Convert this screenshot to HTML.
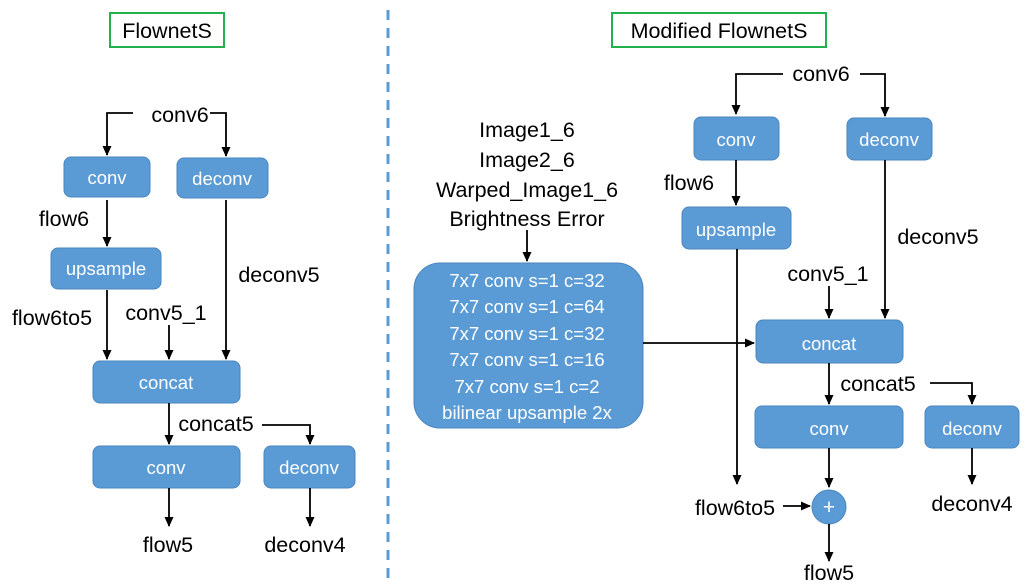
<!DOCTYPE html>
<html><head><meta charset="utf-8"><style>
html,body{margin:0;padding:0;background:#fff;}
svg{display:block;}
text{font-family:"Liberation Sans",sans-serif;}
.l{font-size:21.5px;fill:#000;text-anchor:middle;}
.b{font-size:18.5px;fill:#fff;text-anchor:middle;}
.box{fill:#5b9bd5;stroke:#4a86be;stroke-width:1;}
.ln{stroke:#000;stroke-width:1.8;fill:none;}
</style></head><body>
<svg width="1025" height="585" viewBox="0 0 1025 585" xmlns="http://www.w3.org/2000/svg">
<defs><marker id="a" markerWidth="10" markerHeight="10" refX="9" refY="5" orient="auto" markerUnits="userSpaceOnUse"><path d="M0,0.5 L10,5 L0,9.5 z" fill="#000"/></marker></defs>

<line x1="388" y1="10" x2="388" y2="582" stroke="#5b9bd5" stroke-width="3" stroke-dasharray="10,8"/>

<!-- LEFT -->
<rect x="110" y="13" width="114" height="34" fill="#fff" stroke="#22b14c" stroke-width="2"/>
<text class="l" x="167" y="38">FlownetS</text>

<text class="l" x="180" y="122">conv6</text>
<path class="ln" d="M133,113 H107 V155" marker-end="url(#a)"/>
<path class="ln" d="M210,113 H226 V156" marker-end="url(#a)"/>
<rect class="box" x="64" y="157" width="86" height="40" rx="7"/>
<text class="b" x="107" y="184">conv</text>
<rect class="box" x="177" y="158" width="91" height="40" rx="7"/>
<text class="b" x="222" y="185">deconv</text>

<text class="l" x="64" y="226">flow6</text>
<path class="ln" d="M107,200 V246" marker-end="url(#a)"/>
<rect class="box" x="51" y="248" width="110" height="41" rx="7"/>
<text class="b" x="106" y="275">upsample</text>

<text class="l" x="279" y="282">deconv5</text>
<path class="ln" d="M226,200 V359" marker-end="url(#a)"/>
<text class="l" x="52" y="325">flow6to5</text>
<path class="ln" d="M107,290 V359" marker-end="url(#a)"/>
<text class="l" x="166" y="320">conv5_1</text>
<path class="ln" d="M169,325 V359" marker-end="url(#a)"/>
<rect class="box" x="93" y="361" width="147" height="42" rx="7"/>
<text class="b" x="166" y="389">concat</text>

<path class="ln" d="M169,403 V444" marker-end="url(#a)"/>
<text class="l" x="216" y="431">concat5</text>
<path class="ln" d="M262,425 H310 V444" marker-end="url(#a)"/>
<rect class="box" x="93" y="446" width="147" height="42" rx="7"/>
<text class="b" x="166" y="474">conv</text>
<rect class="box" x="264" y="446" width="91" height="42" rx="7"/>
<text class="b" x="309" y="474">deconv</text>
<path class="ln" d="M169,488 V526" marker-end="url(#a)"/>
<path class="ln" d="M310,488 V526" marker-end="url(#a)"/>
<text class="l" x="168" y="552">flow5</text>
<text class="l" x="305" y="552">deconv4</text>

<!-- RIGHT -->
<rect x="612" y="13" width="214" height="34" fill="#fff" stroke="#22b14c" stroke-width="2"/>
<text class="l" x="719" y="38">Modified FlownetS</text>

<text class="l" x="821" y="81">conv6</text>
<path class="ln" d="M783,74 H736 V114" marker-end="url(#a)"/>
<path class="ln" d="M860,74 H885 V116" marker-end="url(#a)"/>
<rect class="box" x="694" y="117" width="85" height="43" rx="7"/>
<text class="b" x="736" y="146">conv</text>
<rect class="box" x="847" y="118" width="85" height="42" rx="7"/>
<text class="b" x="889" y="146">deconv</text>

<text class="l" x="689" y="190">flow6</text>
<path class="ln" d="M736,160 V205" marker-end="url(#a)"/>
<rect class="box" x="682" y="207" width="109" height="42" rx="7"/>
<text class="b" x="736" y="236">upsample</text>
<path class="ln" d="M737,249 V484" marker-end="url(#a)"/>

<text class="l" x="938" y="244">deconv5</text>
<path class="ln" d="M885,160 V318" marker-end="url(#a)"/>
<text class="l" x="828" y="281">conv5_1</text>
<path class="ln" d="M829,286 V318" marker-end="url(#a)"/>

<text class="l" x="527" y="137">Image1_6</text>
<text class="l" x="527" y="167">Image2_6</text>
<text class="l" x="527" y="197">Warped_Image1_6</text>
<text class="l" x="527" y="226">Brightness Error</text>
<path class="ln" d="M527,230 V261" marker-end="url(#a)"/>
<rect class="box" x="414" y="263" width="229" height="165" rx="26"/>
<text class="b" x="527" y="287">7x7 conv s=1 c=32</text>
<text class="b" x="527" y="313">7x7 conv s=1 c=64</text>
<text class="b" x="527" y="340">7x7 conv s=1 c=32</text>
<text class="b" x="527" y="366">7x7 conv s=1 c=16</text>
<text class="b" x="527" y="393">7x7 conv s=1 c=2</text>
<text class="b" x="527" y="419">bilinear upsample 2x</text>
<path class="ln" d="M643,343 H754" marker-end="url(#a)"/>

<rect class="box" x="756" y="320" width="147" height="43" rx="7"/>
<text class="b" x="829" y="350">concat</text>
<path class="ln" d="M829,363 V404" marker-end="url(#a)"/>
<text class="l" x="878" y="391">concat5</text>
<path class="ln" d="M930,383 H972 V404" marker-end="url(#a)"/>
<rect class="box" x="755" y="406" width="148" height="42" rx="7"/>
<text class="b" x="829" y="435">conv</text>
<rect class="box" x="925" y="406" width="94" height="42" rx="7"/>
<text class="b" x="972" y="435">deconv</text>
<path class="ln" d="M829,448 V487" marker-end="url(#a)"/>
<path class="ln" d="M972,448 V484" marker-end="url(#a)"/>
<circle cx="829" cy="507" r="17" class="box"/>
<text class="b" x="829" y="514" style="font-size:21px">+</text>
<text class="l" x="735" y="515">flow6to5</text>
<path class="ln" d="M783,506 H810" marker-end="url(#a)"/>
<path class="ln" d="M829,524 V561" marker-end="url(#a)"/>
<text class="l" x="829" y="580">flow5</text>
<text class="l" x="972" y="511">deconv4</text>
</svg>
</body></html>
